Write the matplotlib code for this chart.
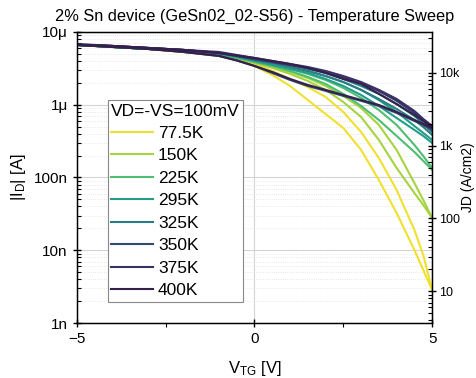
import matplotlib
matplotlib.use("Agg")
import matplotlib.pyplot as plt
from matplotlib.ticker import LogLocator, FixedLocator, FixedFormatter, NullFormatter

plt.rcParams['font.family'] = ['Liberation Sans', 'DejaVu Sans']
plt.rcParams['mathtext.default'] = 'regular'

# gate voltage sweep points [V]
v_tg = [-5, -4, -3, -2, -1, -0.5, 0, 0.5, 1, 1.5, 2, 2.5, 3, 3.5, 4, 4.5, 4.75, 5]

temps = ["77.5K", "150K", "225K", "295K", "325K", "350K", "375K", "400K"]
colors = ['#f0e12e', '#a6d340', '#4fbd72', '#229e88', '#2a7d86', '#334a70', '#3a3266', '#35204d']

# |ID| [A], two sweeps per temperature
id_77 = [[6.63e-6, 6.22e-6, 5.84e-6, 5.31e-6, 4.68e-6, 4.12e-6, 3.41e-6, 2.56e-6, 1.81e-6, 1.16e-6, 7.46e-7, 4.79e-7, 2.39e-7, 9.24e-8, 3.25e-8, 1.01e-8, 5.35e-9, 2.84e-9],
         [6.63e-6, 6.22e-6, 5.84e-6, 5.31e-6, 4.83e-6, 4.25e-6, 3.63e-6, 2.91e-6, 2.26e-6, 1.75e-6, 1.28e-6, 7.95e-7, 4.22e-7, 1.85e-7, 6.73e-8, 1.90e-8, 8.60e-9, 2.84e-9]]
id_150 = [[6.63e-6, 6.22e-6, 5.84e-6, 5.31e-6, 4.83e-6, 4.25e-6, 3.75e-6, 3.20e-6, 2.65e-6, 2.12e-6, 1.60e-6, 1.09e-6, 6.78e-7, 3.28e-7, 1.35e-7, 6.12e-8, 4.19e-8, 2.78e-8],
          [6.63e-6, 6.22e-6, 5.84e-6, 5.48e-6, 4.98e-6, 4.39e-6, 3.87e-6, 3.30e-6, 2.82e-6, 2.33e-6, 1.81e-6, 1.32e-6, 9.02e-7, 5.27e-7, 2.39e-7, 8.40e-8, 4.90e-8, 2.78e-8]]
id_225 = [[6.63e-6, 6.22e-6, 5.84e-6, 5.48e-6, 4.98e-6, 4.39e-6, 3.87e-6, 3.41e-6, 2.91e-6, 2.41e-6, 1.93e-6, 1.41e-6, 9.61e-7, 6.17e-7, 3.72e-7, 2.24e-7, 1.69e-7, 1.27e-7],
          [6.63e-6, 6.22e-6, 5.84e-6, 5.48e-6, 4.98e-6, 4.53e-6, 3.99e-6, 3.52e-6, 3.10e-6, 2.65e-6, 2.19e-6, 1.70e-6, 1.24e-6, 8.47e-7, 5.27e-7, 2.80e-7, 1.97e-7, 1.35e-7]]
id_295 = [[6.63e-6, 6.22e-6, 5.84e-6, 5.48e-6, 4.98e-6, 4.53e-6, 3.99e-6, 3.52e-6, 3.10e-6, 2.73e-6, 2.26e-6, 1.81e-6, 1.36e-6, 9.61e-7, 6.57e-7, 4.50e-7, 3.72e-7, 2.98e-7],
          [6.63e-6, 6.22e-6, 5.84e-6, 5.48e-6, 5.14e-6, 4.68e-6, 4.12e-6, 3.75e-6, 3.30e-6, 2.91e-6, 2.48e-6, 2.05e-6, 1.60e-6, 1.16e-6, 7.95e-7, 5.10e-7, 4.09e-7, 3.28e-7]]
id_325 = [[6.63e-6, 6.22e-6, 5.84e-6, 5.48e-6, 5.14e-6, 4.68e-6, 4.12e-6, 3.75e-6, 3.30e-6, 2.91e-6, 2.48e-6, 2.05e-6, 1.60e-6, 1.20e-6, 8.74e-7, 6.17e-7, 4.94e-7, 3.84e-7],
          [6.63e-6, 6.42e-6, 6.03e-6, 5.66e-6, 5.14e-6, 4.68e-6, 4.25e-6, 3.87e-6, 3.52e-6, 3.10e-6, 2.73e-6, 2.26e-6, 1.81e-6, 1.41e-6, 1.02e-6, 7.00e-7, 5.44e-7, 4.22e-7]]
id_350 = [[6.63e-6, 6.22e-6, 5.84e-6, 5.31e-6, 4.68e-6, 4.06e-6, 3.41e-6, 2.73e-6, 2.19e-6, 1.81e-6, 1.55e-6, 1.32e-6, 1.13e-6, 9.61e-7, 7.70e-7, 5.98e-7, 5.27e-7, 4.50e-7],
          [6.63e-6, 6.42e-6, 6.03e-6, 5.66e-6, 5.14e-6, 4.68e-6, 4.25e-6, 3.87e-6, 3.52e-6, 3.20e-6, 2.82e-6, 2.41e-6, 1.99e-6, 1.55e-6, 1.13e-6, 7.70e-7, 5.98e-7, 4.64e-7]]
id_375 = [[6.63e-6, 6.42e-6, 6.03e-6, 5.66e-6, 5.14e-6, 4.68e-6, 4.25e-6, 3.87e-6, 3.52e-6, 3.20e-6, 2.82e-6, 2.41e-6, 1.99e-6, 1.55e-6, 1.16e-6, 7.95e-7, 6.17e-7, 4.94e-7],
          [6.63e-6, 6.42e-6, 6.03e-6, 5.66e-6, 5.31e-6, 4.83e-6, 4.39e-6, 3.99e-6, 3.63e-6, 3.30e-6, 2.91e-6, 2.48e-6, 2.05e-6, 1.60e-6, 1.20e-6, 8.20e-7, 6.37e-7, 5.10e-7]]
id_400 = [[6.84e-6, 6.42e-6, 6.03e-6, 5.66e-6, 5.14e-6, 4.75e-6, 4.39e-6, 3.99e-6, 3.63e-6, 3.20e-6, 2.73e-6, 2.26e-6, 1.93e-6, 1.41e-6, 1.02e-6, 7.23e-7, 5.98e-7, 4.94e-7],
          [6.63e-6, 6.22e-6, 5.84e-6, 5.31e-6, 4.68e-6, 4.06e-6, 3.41e-6, 2.82e-6, 2.26e-6, 1.87e-6, 1.60e-6, 1.36e-6, 1.16e-6, 9.92e-7, 7.95e-7, 6.17e-7, 5.44e-7, 4.79e-7]]
all_id = [id_77, id_150, id_225, id_295, id_325, id_350, id_375, id_400]

# device area [cm2] used for the JD axis
area_cm2 = 2.73e-10

left_ticks = [1e-9, 1e-8, 1e-7, 1e-6, 1e-5]
left_labels = ["1n", "10n", "100n", "1μ", "10μ"]
right_ticks = [10, 100, 1e3, 1e4]
right_labels = ["10", "100", "1k", "10k"]

fig = plt.figure(figsize=(4.77, 3.78), dpi=100)
ax = fig.add_axes([0.161, 0.1455, 0.745, 0.77])

for temp, col, sweeps in zip(temps, colors, all_id):
    for k, cur in enumerate(sweeps):
        ax.plot(v_tg, cur, color=col, lw=1.5, label=temp if k == 0 else None)

ax.set_yscale('log')
ax.set_xlim(-5, 5)
ax.set_ylim(1e-9, 1e-5)
ax.set_xticks([-5, 0, 5])
ax.set_xticklabels(["\u22125", "0", "5"])
ax.set_xticks([-2.5, 2.5], minor=True)
ax.yaxis.set_major_locator(FixedLocator(left_ticks))
ax.yaxis.set_major_formatter(FixedFormatter(left_labels))
ax.yaxis.set_minor_locator(LogLocator(base=10, subs=range(2, 10), numticks=20))
ax.yaxis.set_minor_formatter(NullFormatter())

ax.grid(True, which='major', color='#d4d4d4', lw=0.8)
ax.grid(True, which='minor', axis='y', color='#e0e0e0', lw=0.6, ls=':')
ax.set_axisbelow(True)

ax.tick_params(which='major', direction='inout', length=6, width=1, labelsize=11)
ax.tick_params(which='minor', direction='in', length=3, width=0.8)
ax.tick_params(axis='x', which='minor', direction='out', length=3)
for s in ax.spines.values():
    s.set_linewidth(1.0)

ax.set_xlabel(r'V$_{TG}$ [V]', fontsize=12, labelpad=9)
ax.set_ylabel(r'|I$_{D}$| [A]', fontsize=12, labelpad=4)
ax.set_title("2% Sn device (GeSn02_02-S56) - Temperature Sweep", fontsize=11.8, pad=8)

leg = ax.legend(loc='upper left', bbox_to_anchor=(0.087, 0.766), borderaxespad=0,
                title="VD=-VS=100mV", title_fontsize=12.5, fontsize=12.5,
                alignment='left', fancybox=False, edgecolor='#888888', framealpha=1,
                handlelength=2.4, handletextpad=0.3, labelspacing=0.42,
                borderpad=0.2)
leg.get_frame().set_linewidth(0.8)

ax2 = ax.twinx()
ax2.set_yscale('log')
ax2.set_ylim(1e-9 / area_cm2, 1e-5 / area_cm2)
ax2.yaxis.set_major_locator(FixedLocator(right_ticks))
ax2.yaxis.set_major_formatter(FixedFormatter(right_labels))
ax2.yaxis.set_minor_locator(LogLocator(base=10, subs=range(2, 10), numticks=20))
ax2.yaxis.set_minor_formatter(NullFormatter())
ax2.tick_params(which='major', direction='inout', length=6, width=1, labelsize=9, pad=2)
ax2.tick_params(which='minor', direction='in', length=3, width=0.8)
ax2.set_ylabel("JD (A/cm2)", fontsize=10, labelpad=1)

fig.savefig("out.png", dpi=100)
